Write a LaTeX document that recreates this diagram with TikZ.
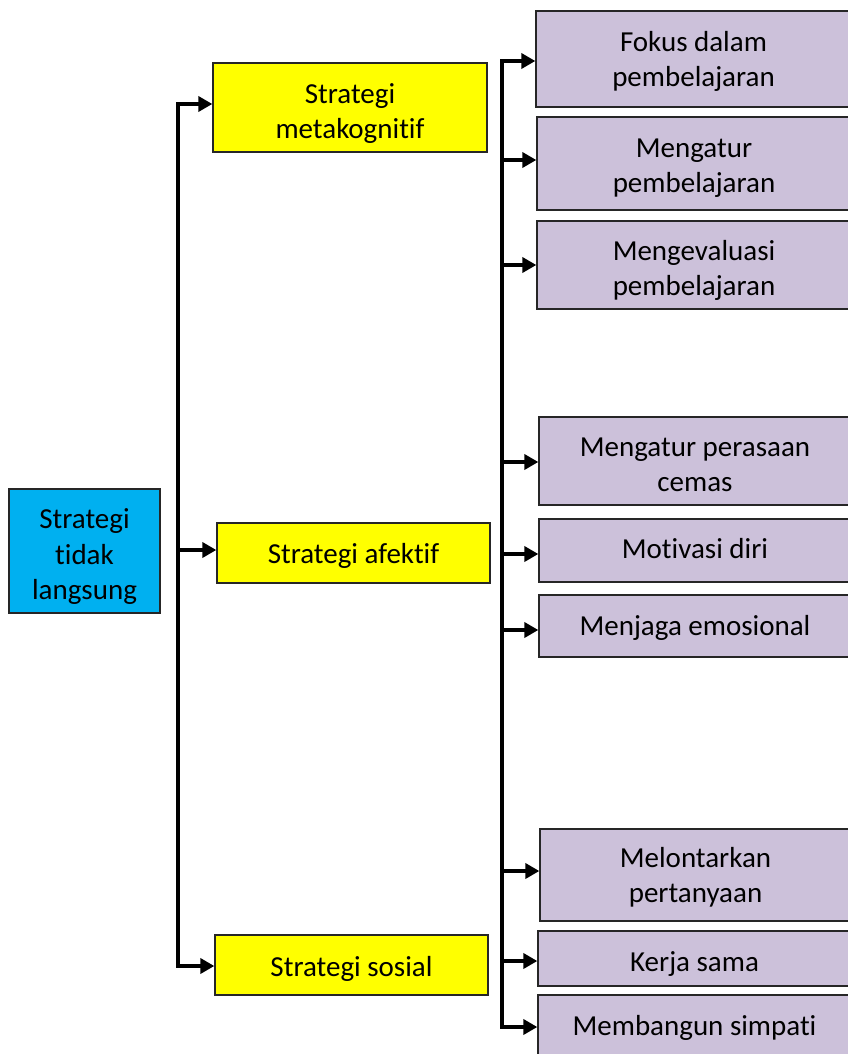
\documentclass[tikz,border=0pt]{standalone}
\usepackage{fontspec}
\setmainfont{Carlito}[Ligatures=NoCommon]
\usetikzlibrary{arrows.meta}
\definecolor{cyanbox}{HTML}{00B0F0}
\definecolor{yellowbox}{HTML}{FFFF00}
\definecolor{purplebox}{HTML}{CCC1DA}
\definecolor{edgecol}{HTML}{262626}
\tikzset{
  box/.style={draw=edgecol, line width=1.3pt, rectangle, inner sep=0pt},
  rootbox/.style={box, fill=cyanbox},
  catbox/.style={box, fill=yellowbox},
  leafbox/.style={box, fill=purplebox},
  txt/.style={anchor=base, inner sep=0pt, font=\fontsize{29}{35}\selectfont},
  conn/.style={line width=4pt, draw=black},
  arr/.style={conn, -{Triangle[length=14pt,width=15pt]}},
}
\begin{document}
\begin{tikzpicture}[x=1pt,y=-1pt]
\useasboundingbox (0,0) rectangle (848,1054);
\clip (0,0) rectangle (848,1054);
% root
\node[rootbox, minimum width=151pt, minimum height=124pt] (root) at (84.5,551) {};
\node[txt] (root1) at ([yshift=22.5pt]root.center) {Strategi};
\node[txt] (root2) at ([yshift=-13pt]root.center) {tidak};
\node[txt] (root3) at ([yshift=-48.5pt]root.center) {langsung};
% categories
\node[catbox, minimum width=274pt, minimum height=89pt] (meta) at (350,107.5) {};
\node[txt] (meta1) at ([yshift=4pt]meta.center) {Strategi};
\node[txt] (meta2) at ([yshift=-31pt]meta.center) {metakognitif};
\node[catbox, minimum width=273pt, minimum height=60pt] (afek) at (353.5,553) {};
\node[txt] (afek1) at ([yshift=-10.7pt]afek.center) {Strategi afektif};
\node[catbox, minimum width=273pt, minimum height=60pt] (sosi) at (351.5,965) {};
\node[txt] (sosi1) at ([yshift=-11pt]sosi.center) {Strategi sosial};
% leaves
\node[leafbox, minimum width=315pt, minimum height=96pt] (p1) at (693.5,59) {};
\node[txt] (p1a) at ([yshift=7pt]p1.center) {Fokus dalam};
\node[txt] (p1b) at ([yshift=-28pt]p1.center) {pembelajaran};
\node[leafbox, minimum width=314pt, minimum height=93pt] (p2) at (694,163.5) {};
\node[txt] (p2a) at ([yshift=6pt]p2.center) {Mengatur};
\node[txt] (p2b) at ([yshift=-29pt]p2.center) {pembelajaran};
\node[leafbox, minimum width=314pt, minimum height=88pt] (p3) at (694,265) {};
\node[txt] (p3a) at ([yshift=4.5pt]p3.center) {Mengevaluasi};
\node[txt] (p3b) at ([yshift=-30.5pt]p3.center) {pembelajaran};
\node[leafbox, minimum width=312pt, minimum height=88pt] (p4) at (695,461) {};
\node[txt] (p4a) at ([yshift=4.5pt]p4.center) {Mengatur perasaan};
\node[txt] (p4b) at ([yshift=-30.5pt]p4.center) {cemas};
\node[leafbox, minimum width=312pt, minimum height=63pt] (p5) at (695,550.5) {};
\node[txt] (p5a) at ([yshift=-8pt]p5.center) {Motivasi diri};
\node[leafbox, minimum width=312pt, minimum height=62pt] (p6) at (695,626) {};
\node[txt] (p6a) at ([yshift=-9.7pt]p6.center) {Menjaga emosional};
\node[leafbox, minimum width=311pt, minimum height=92pt] (p7) at (695.5,875) {};
\node[txt] (p7a) at ([yshift=7.5pt]p7.center) {Melontarkan};
\node[txt] (p7b) at ([yshift=-27.5pt]p7.center) {pertanyaan};
\node[leafbox, minimum width=313pt, minimum height=55pt] (p8) at (694.5,958.5) {};
\node[txt] (p8a) at ([yshift=-12.5pt]p8.center) {Kerja sama};
\node[leafbox, minimum width=313pt, minimum height=62pt] (p9) at (694.5,1026) {};
\node[txt] (p9a) at ([yshift=-9.5pt]p9.center) {Membangun simpati};
% trunk 1 points
\coordinate (a1) at (178,104);
\coordinate (a2) at (178,550);
\coordinate (a3) at (178,966);
\draw[conn, line cap=rect] (a1) -- (a3);
\draw[arr] (a1) -- (a1 -| meta.west);
\draw[arr] (a2) -- (a2 -| afek.west);
\draw[arr] (a3) -- (a3 -| sosi.west);
% trunk 2 points
\coordinate (b1) at (502,61);
\coordinate (b2) at (502,160);
\coordinate (b3) at (502,265);
\coordinate (b4) at (502,462);
\coordinate (b5) at (502,554);
\coordinate (b6) at (502,630);
\coordinate (b7) at (502,871);
\coordinate (b8) at (502,961);
\coordinate (b9) at (502,1027);
\draw[conn, line cap=rect] (b1) -- (b9);
\draw[arr] (b1) -- (b1 -| p1.west);
\draw[arr] (b2) -- (b2 -| p2.west);
\draw[arr] (b3) -- (b3 -| p3.west);
\draw[arr] (b4) -- (b4 -| p4.west);
\draw[arr] (b5) -- (b5 -| p5.west);
\draw[arr] (b6) -- (b6 -| p6.west);
\draw[arr] (b7) -- (b7 -| p7.west);
\draw[arr] (b8) -- (b8 -| p8.west);
\draw[arr] (b9) -- (b9 -| p9.west);
\end{tikzpicture}
\end{document}
